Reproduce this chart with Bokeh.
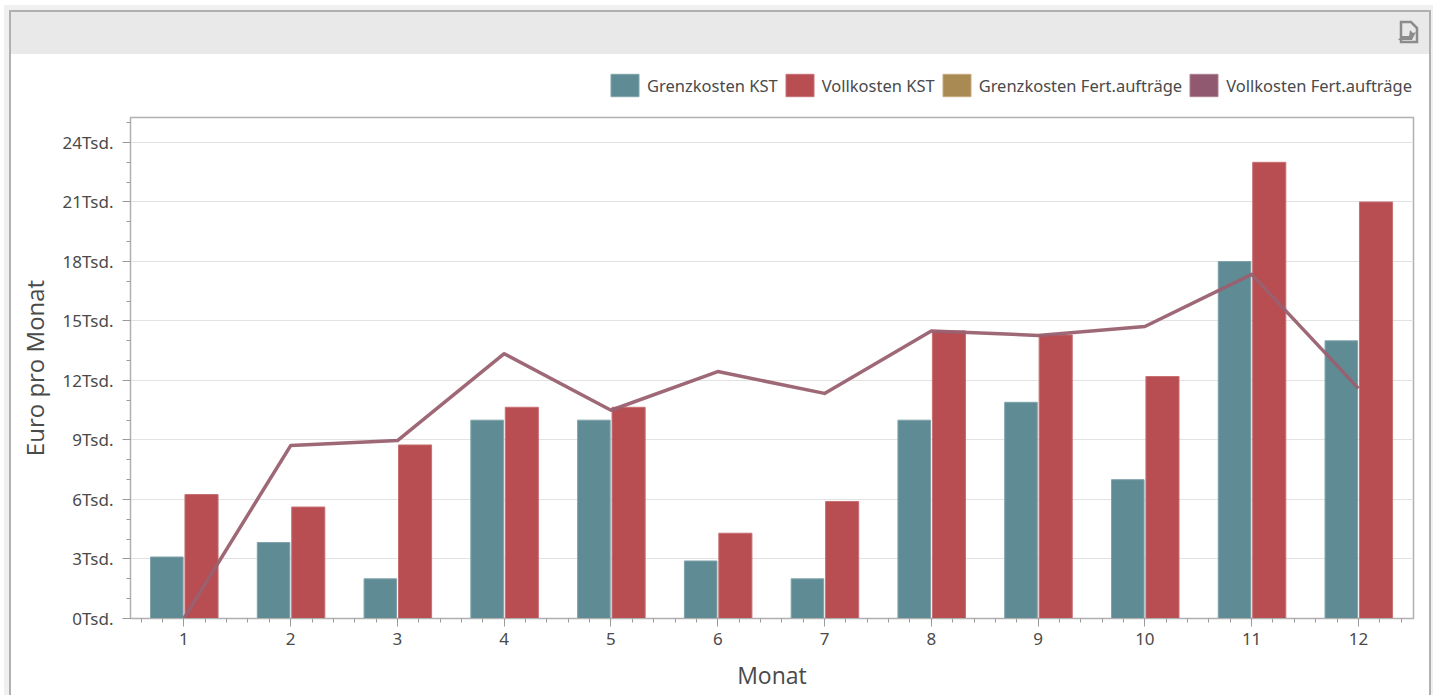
from urllib.parse import quote
from bokeh.embed import file_html
from bokeh.resources import INLINE
from bokeh.plotting import figure
from bokeh.layouts import column
from bokeh.models import Range1d, SingleIntervalTicker, Legend, LegendItem, ColumnDataSource
from bokeh.transform import dodge

months = [1, 2, 3, 4, 5, 6, 7, 8, 9, 10, 11, 12]
grenzkosten_kst = [3100, 3830, 2000, 10000, 10000, 2900, 2000, 10000, 10900, 7000, 18000, 14000]
vollkosten_kst = [6250, 5620, 8750, 10650, 10650, 4300, 5900, 14500, 14300, 12200, 23000, 21000]
vollkosten_fert = [0, 8720, 8970, 13350, 10500, 12450, 11350, 14500, 14270, 14720, 17350, 11600]
grenzkosten_fert = [0, 0, 0, 0, 0, 0, 0, 0, 0, 0, 0, 0]
y_ticks = [0, 3000, 6000, 9000, 12000, 15000, 18000, 21000, 24000]
y_tick_labels = ["0Tsd.", "3Tsd.", "6Tsd.", "9Tsd.", "12Tsd.", "15Tsd.", "18Tsd.", "21Tsd.", "24Tsd."]
series_names = ["Grenzkosten KST", "Vollkosten KST", "Grenzkosten Fert.aufträge", "Vollkosten Fert.aufträge"]
series_colors = ["#5f8b95", "#b84d52", "#a98a52", "#90596f"]
series_edges = ["#7fa3ab", "#c77074", "#c4ab7e", "#ad8093"]

W, H = 1433, 695
TOP = 112
src = ColumnDataSource(dict(m=months, g=grenzkosten_kst, v=vollkosten_kst))

icon = ("<svg xmlns='http://www.w3.org/2000/svg' width='24' height='24'>"
        "<path d='M4 2h10l6 6v14H4z' fill='#e9e9e9' stroke='#8c8c8c' stroke-width='2.5'/>"
        "<path d='M1 20h14l4-8-3 1-3-3-1 6H5z' fill='#8c8c8c'/></svg>")
icon_url = "url(\"data:image/svg+xml," + quote(icon) + "\")"

def rect(color, x, y, w, h):
    return f"linear-gradient({color},{color}) {x}px {y}px / {w}px {h}px no-repeat"

layers = [
    f"{icon_url} 1397px 20px / 24px 24px no-repeat",
    rect("#b0b0b0", 9, 10, 2, 685),
    rect("#b0b0b0", 1429, 10, 2, 685),
    rect("#b0b0b0", 9, 10, 1422, 2),
    rect("#e9e9e9", 11, 12, 1418, 42),
    rect("#ffffff", 11, 12, 1418, 683),
    rect("#f0f0f0", 4, 5, 1429, 690),
]

# Legend strip: the series renderers are hidden, only their legend swatches show.
top = figure(width=W, height=TOP, output_backend="svg", toolbar_location=None,
             x_range=Range1d(0.5, 12.5), y_range=Range1d(0, 25260), x_axis_type=None, y_axis_type=None,
             min_border=0, background_fill_color=None, border_fill_color=None, outline_line_color=None)
top.grid.visible = False
series_values = [grenzkosten_kst, vollkosten_kst, grenzkosten_fert, vollkosten_fert]
swatches = [top.vbar(x=months, top=vals, width=0.3, fill_color=c, line_color=e, visible=False)
            for vals, c, e in zip(series_values, series_colors, series_edges)]
legend = Legend(items=[LegendItem(label=n, renderers=[r]) for n, r in zip(series_names, swatches)],
                orientation="horizontal", location=(477, 13), glyph_width=35, glyph_height=28,
                label_standoff=5, spacing=4, padding=0, margin=0, border_line_alpha=0,
                background_fill_alpha=0, label_text_font="Noto Sans", label_text_font_size="16.5px",
                label_text_color="#4a4a4a", label_height=28)
top.add_layout(legend, "center")

p = figure(width=W, height=H - TOP, output_backend="svg", toolbar_location=None,
           x_range=Range1d(0.5, 12.516), y_range=Range1d(0, 25260),
           min_border_left=130, min_border_right=W - 1413, min_border_top=117 - TOP, min_border_bottom=H - 618,
           x_axis_label="Monat", y_axis_label="Euro pro Monat",
           background_fill_color="white", border_fill_color=None)

p.vbar(x=dodge("m", -0.16), top="g", width=0.305, source=src, fill_color=series_colors[0],
       line_color=series_edges[0], line_width=1)
p.vbar(x=dodge("m", 0.165), top="v", width=0.31, source=src, fill_color=series_colors[1],
       line_color=series_edges[1], line_width=1)
p.line(months, vollkosten_fert, line_color="#99606f", line_width=3.5, line_alpha=0.95, line_join="round")

p.xaxis.ticker = SingleIntervalTicker(interval=1, num_minor_ticks=5)
p.yaxis.ticker = SingleIntervalTicker(interval=3000, num_minor_ticks=3)
p.yaxis.major_label_overrides = dict(zip(y_ticks, y_tick_labels))
for ax in (p.xaxis[0], p.yaxis[0]):
    ax.axis_line_color = "#b0b0b0"
    ax.major_tick_line_color = "#9a9a9a"
    ax.minor_tick_line_color = "#9a9a9a"
    ax.major_tick_in = 0
    ax.major_tick_out = 8
    ax.minor_tick_in = 0
    ax.minor_tick_out = 4
    ax.major_label_text_font = "Noto Sans"
    ax.major_label_text_font_size = "17px"
    ax.major_label_text_color = "#4a4a4a"
    ax.axis_label_text_font = "Open Sans"
    ax.axis_label_text_font_style = "normal"
    ax.axis_label_text_font_size = "23px"
    ax.axis_label_text_color = "#4a4a4a"
p.yaxis.axis_label_text_font_size = "24px"
p.xaxis.major_label_standoff = 6
p.yaxis.major_label_standoff = 9
p.xaxis.axis_label_standoff = 11
p.yaxis.axis_label_standoff = 8
p.xgrid.visible = False
p.ygrid.grid_line_color = "#e2e2e2"
p.outline_line_color = "#b0b0b0"
p.outline_line_width = 1.5

page = column(top, p, spacing=0, width=W, height=H, styles={"background": ", ".join(layers)})
open("out.html", "w").write(file_html(page, INLINE))
